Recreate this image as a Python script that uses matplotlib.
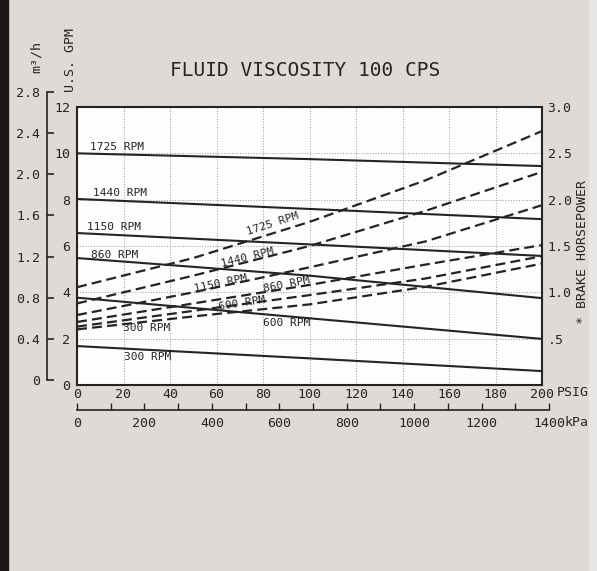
import numpy as np
import matplotlib.pyplot as plt
from matplotlib.patches import Rectangle

plt.rcParams['font.family'] = ['DejaVu Sans Mono', 'DejaVu Sans']

W, H = 597, 571
ink = '#262322'
paper = '#dedad8'

# discharge pressure, PSIG
psi = [0, 100, 200]
psi_hp = [0, 50, 100, 150, 200]

# capacity (US GPM) per pump speed
gpm_1725 = [10.0, 9.75, 9.45]
gpm_1440 = [8.03, 7.60, 7.16]
gpm_1150 = [6.56, 6.07, 5.57]
gpm_860 = [5.48, 4.72, 3.75]
gpm_600 = [3.77, 2.88, 1.99]
gpm_300 = [1.68, 1.15, 0.60]

# brake horsepower per pump speed
hp_1725 = [1.055, 1.37, 1.76, 2.21, 2.74]
hp_1440 = [0.88, 1.18, 1.50, 1.88, 2.30]
hp_1150 = [0.755, 1.00, 1.27, 1.55, 1.94]
hp_860 = [0.68, 0.88, 1.08, 1.30, 1.51]
hp_600 = [0.63, 0.80, 0.97, 1.15, 1.39]
hp_300 = [0.60, 0.74, 0.87, 1.06, 1.31]

psi_ticks = list(range(0, 201, 20))
gpm_ticks = list(range(0, 13, 2))
hp_ticks = [0.5, 1.0, 1.5, 2.0, 2.5, 3.0]
hp_ticklabels = ['.5', '1.0', '1.5', '2.0', '2.5', '3.0']
m3h_ticks = [0, 0.4, 0.8, 1.2, 1.6, 2.0, 2.4, 2.8]
m3h_ticklabels = ['0', '0.4', '0.8', '1.2', '1.6', '2.0', '2.4', '2.8']
kpa_ticks = list(range(0, 1401, 200))
kpa_minor = list(range(100, 1400, 200))
KPA_PER_PSI = 6.895


def fx(px):
    return px / W


def fy(py):
    return 1 - py / H


fig = plt.figure(figsize=(W / 100, H / 100), dpi=100)
fig.patch.set_facecolor(paper)

# scanner edges
fig.add_artist(Rectangle((0, 0), fx(8), 1, transform=fig.transFigure,
                         color='#1c1616', zorder=0))
fig.add_artist(Rectangle((fx(589), 0), fx(8), 1, transform=fig.transFigure,
                         color='#e8e6e5', zorder=0))

# main chart: capacity vs pressure
ax = fig.add_axes([fx(77), fy(385), fx(465), 278 / H])
ax.set_facecolor('#fdfdfc')
ax.set_xlim(0, 200)
ax.set_ylim(0, 12)
ax.set_xticks(psi_ticks)
ax.set_yticks(gpm_ticks)
ax.tick_params(length=0, labelsize=9.5, colors=ink)
ax.tick_params(axis='y', pad=5)
ax.tick_params(axis='x', pad=2.5)
ax.grid(True, linestyle=(0, (1, 1.6)), color='#a2a2a2', lw=0.75)
for s in ax.spines.values():
    s.set_color(ink)
    s.set_linewidth(1.5)

for g in [gpm_1725, gpm_1440, gpm_1150, gpm_860, gpm_600, gpm_300]:
    ax.plot(psi, g, color=ink, lw=1.5, solid_capstyle='butt')

solid_lbl = [('1725 RPM', 5.6, 10.27), ('1440 RPM', 6.9, 8.29),
             ('1150 RPM', 4.3, 6.82), ('860 RPM', 6.0, 5.61),
             ('600 RPM', 80, 2.68), ('300 RPM', 20.2, 1.21)]
for t, x, y in solid_lbl:
    ax.text(x, y, t, fontsize=8, color=ink, ha='left', va='center')

# brake horsepower on the right scale
axh = ax.twinx()
axh.set_ylim(0, 3)
axh.set_yticks(hp_ticks)
axh.set_yticklabels(hp_ticklabels)
axh.tick_params(length=0, labelsize=9.5, colors=ink, pad=4)
for s in axh.spines.values():
    s.set_visible(False)

for h in [hp_1725, hp_1440, hp_1150, hp_860, hp_600, hp_300]:
    axh.plot(psi_hp, h, color=ink, lw=1.6, dashes=(4.5, 2.3))

dash_lbl = [('1725 RPM', 84, 1.74, 18), ('1440 RPM', 73.5, 1.38, 14),
            ('1150 RPM', 62, 1.10, 12), ('860 RPM', 90, 1.08, 11),
            ('600 RPM', 71, 0.885, 9), ('300 RPM', 30, 0.615, 0)]
for t, x, y, r in dash_lbl:
    axh.text(x, y, t, fontsize=8, color=ink, ha='center', va='center',
             rotation=r, rotation_mode='anchor')

# metric capacity scale
axm = fig.add_axes([fx(47), fy(380), 0.0001, 288 / H])
axm.set_ylim(0, 2.8)
axm.set_yticks(m3h_ticks)
axm.set_yticklabels(m3h_ticklabels)
axm.set_xticks([])
axm.patch.set_visible(False)
for k in ['top', 'right', 'bottom']:
    axm.spines[k].set_visible(False)
axm.spines['left'].set_color(ink)
axm.spines['left'].set_linewidth(1.2)
axm.tick_params(axis='y', direction='in', length=5, width=1.2,
                labelsize=9.5, colors=ink, pad=5)

# metric pressure scale
kpa_w = 465 * (1400 / KPA_PER_PSI) / 200
axk = fig.add_axes([fx(77), fy(410), fx(kpa_w), 0.0001])
axk.set_xlim(0, 1400)
axk.set_xticks(kpa_ticks)
axk.set_xticks(kpa_minor, minor=True)
axk.set_yticks([])
axk.patch.set_visible(False)
for k in ['top', 'right', 'left']:
    axk.spines[k].set_visible(False)
axk.spines['bottom'].set_color(ink)
axk.spines['bottom'].set_linewidth(1.2)
axk.tick_params(axis='x', which='both', direction='in', length=5,
                width=1.0, labelsize=9.5, colors=ink, pad=5)

fig.text(fx(305), fy(70), 'FLUID VISCOSITY 100 CPS', ha='center',
         va='center', fontsize=14, color=ink)
fig.text(fx(70), fy(60), 'U.S. GPM', rotation=90, ha='center', va='center',
         fontsize=9.5, color=ink)
fig.text(fx(36), fy(57), 'm³/h', rotation=90, ha='center', va='center',
         fontsize=9.5, color=ink)
fig.text(fx(583), fy(252), '* BRAKE HORSEPOWER', rotation=90, ha='center',
         va='center', fontsize=9.5, color=ink)
fig.text(fx(557), fy(393), 'PSIG', ha='left', va='center', fontsize=9.5,
         color=ink)
fig.text(fx(565), fy(422), 'kPa', ha='left', va='center', fontsize=9.5,
         color=ink)

fig.savefig('out.png', dpi=100, facecolor=fig.get_facecolor())
